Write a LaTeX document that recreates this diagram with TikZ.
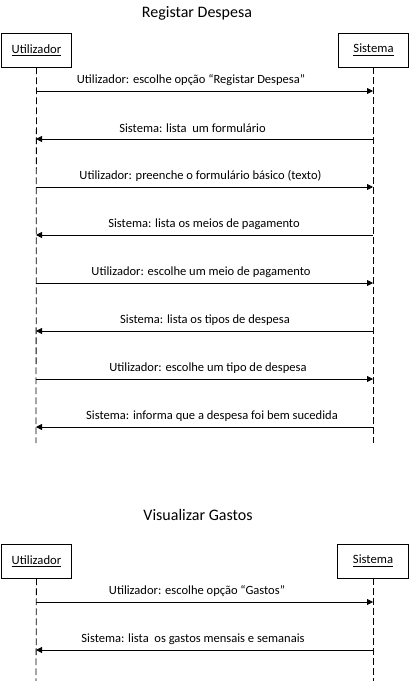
\documentclass[tikz,border=0pt]{standalone}
\usepackage{fontspec}
\setmainfont{Carlito}
\usetikzlibrary{arrows.meta}
\begin{document}
\begin{tikzpicture}[x=0.75pt,y=-0.75pt,line width=0.6pt,
    actor/.style={draw,minimum width=53pt,minimum height=25.5pt,inner sep=0pt,font=\fontsize{9.5}{11}\selectfont},
    title/.style={font=\fontsize{12}{14}\selectfont},
    lbl/.style={inner sep=0pt,font=\fontsize{9.4}{11}\selectfont},
    life/.style={dash pattern=on 5pt off 2.5pt},
    msg/.style={-{Triangle[length=4.5pt,width=4.5pt]}}]
    \useasboundingbox (0,0) rectangle (410,681);
    % Registar Despesa
    \node[title] (t1) at (197,13) {Registar Despesa};
    \node[actor] (u) at (36.5,50) {\underline{Utilizador}};
    \node[actor] (s) at (373.5,50) {\underline{Sistema}};
    \coordinate (ue) at (36,443);
    \coordinate (se) at (373,443);
    \draw[life] (u) -- (ue);
    \draw[life] (u.south -| se) -- (se);
    \foreach \i/\y in {1/91,2/139,3/187,4/235,5/283,6/331,7/379,8/427} {
        \coordinate (u\i) at (36,\y);
        \coordinate (s\i) at (373,\y);
    }
    \node[lbl] (m1) at (191,80) {Utilizador: escolhe opção “Registar Despesa”};
    \draw[msg] (u1) -- (s1);
    \node[lbl] (m2) at (192.5,128) {Sistema: lista \ um formulário};
    \draw[msg] (s2) -- (u2);
    \node[lbl] (m3) at (200.5,176) {Utilizador: preenche o formulário básico (texto)};
    \draw[msg] (u3) -- (s3);
    \node[lbl] (m4) at (204,224) {Sistema: lista os meios de pagamento};
    \draw[msg] (s4) -- (u4);
    \node[lbl] (m5) at (201,272) {Utilizador: escolhe um meio de pagamento};
    \draw[msg] (u5) -- (s5);
    \node[lbl] (m6) at (205,320) {Sistema: lista os tipos de despesa};
    \draw[msg] (s6) -- (u6);
    \node[lbl] (m7) at (208,368) {Utilizador: escolhe um tipo de despesa};
    \draw[msg] (u7) -- (s7);
    \node[lbl] (m8) at (212,416) {Sistema: informa que a despesa foi bem sucedida};
    \draw[msg] (s8) -- (u8);
    % Visualizar Gastos
    \node[title] (t2) at (198,515) {Visualizar Gastos};
    \node[actor] (vu) at (36.5,561) {\underline{Utilizador}};
    \node[actor] (vs) at (373,561) {\underline{Sistema}};
    \coordinate (vue) at (36,681);
    \coordinate (vse) at (373,681);
    \draw[life] (vu) -- (vue);
    \draw[life] (vu.south -| vse) -- (vse);
    \coordinate (vu1) at (36,602);
    \coordinate (vs1) at (373,602);
    \coordinate (vu2) at (36,650);
    \coordinate (vs2) at (373,650);
    \node[lbl] (g1) at (197,591) {Utilizador: escolhe opção “Gastos”};
    \draw[msg] (vu1) -- (vs1);
    \node[lbl] (g2) at (193,639) {Sistema: lista \ os gastos mensais e semanais};
    \draw[msg] (vs2) -- (vu2);
\end{tikzpicture}
\end{document}
